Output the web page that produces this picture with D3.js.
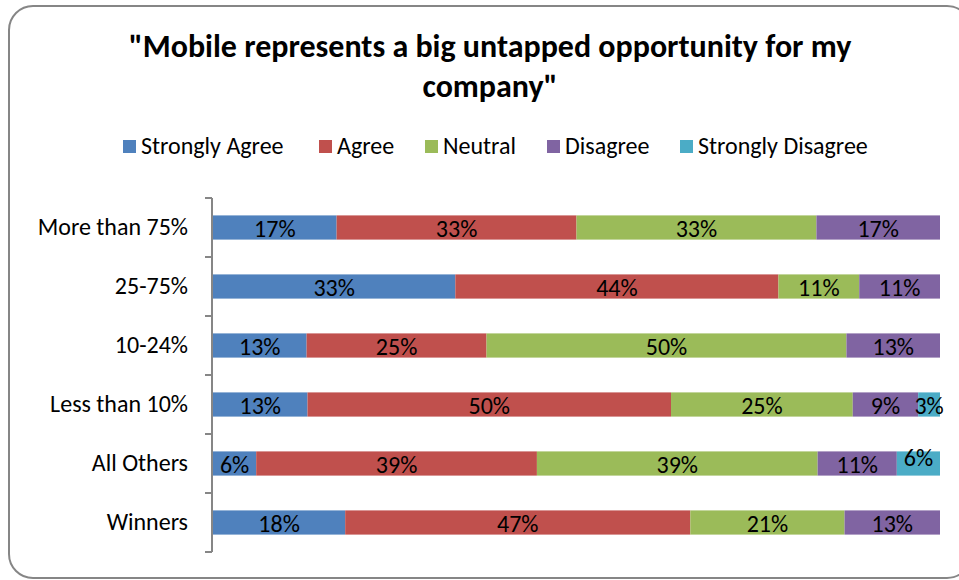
<!DOCTYPE html>
<html>
<head>
<meta charset="utf-8">
<script src="https://cdn.jsdelivr.net/npm/d3@7"></script>
<style>
  html, body { margin: 0; padding: 0; background: #fff; }
  svg { display: block; }
  text { font-family: Carlito, Calibri, Lato, sans-serif; fill: #000; }
</style>
</head>
<body>
<svg id="chart" width="959" height="580"></svg>
<script>
// Survey answer categories (rows, top to bottom)
const categories = ["More than 75%", "25-75%", "10-24%", "Less than 10%", "All Others", "Winners"];

// Answer series, in stacking order
const seriesNames = ["Strongly Agree", "Agree", "Neutral", "Disagree", "Strongly Disagree"];
const seriesColors = ["#4F81BD", "#C0504D", "#9BBB59", "#8064A2", "#4BACC6"];

// Percentage of respondents per row, one array per answer
const stronglyAgree    = [17, 33, 13, 13,  6, 18];
const agree            = [33, 44, 25, 50, 39, 47];
const neutral          = [33, 11, 50, 25, 39, 21];
const disagree         = [17, 11, 13,  9, 11, 13];
const stronglyDisagree = [ 0,  0,  0,  3,  6,  0];

const titleLines = ["\"Mobile represents a big untapped opportunity for my", "company\""];

const svg = d3.select("#chart");

// Rounded chart frame
svg.append("rect")
  .attr("x", 9).attr("y", 6)
  .attr("width", 962).attr("height", 572)
  .attr("rx", 24).attr("ry", 24)
  .attr("fill", "#fff")
  .attr("stroke", "#868686")
  .attr("stroke-width", 2);

// Title
const title = svg.append("text")
  .attr("text-anchor", "middle")
  .attr("font-weight", "bold")
  .attr("font-size", 32);
titleLines.forEach((t, i) => {
  title.append("tspan").attr("x", 490).attr("y", 57 + i * 40).text(t);
});

// Build the table for the stack
const table = categories.map((c, i) => ({
  category: c,
  "Strongly Agree": stronglyAgree[i],
  "Agree": agree[i],
  "Neutral": neutral[i],
  "Disagree": disagree[i],
  "Strongly Disagree": stronglyDisagree[i]
}));

const stack = d3.stack()
  .keys(seriesNames)
  .offset(d3.stackOffsetExpand);
const layers = stack(table);

const x = d3.scaleLinear().domain([0, 1]).range([213, 940]);
const y = d3.scaleBand()
  .domain(categories)
  .range([198, 552])
  .paddingInner(0.59)
  .paddingOuter(0.295);
const color = d3.scaleOrdinal().domain(seriesNames).range(seriesColors);

// Bars
const layerG = svg.append("g").selectAll("g")
  .data(layers)
  .join("g")
  .attr("fill", d => color(d.key));

layerG.selectAll("rect")
  .data(d => d.filter(s => s.data[d.key] > 0))
  .join("rect")
  .attr("x", d => x(d[0]))
  .attr("y", d => y(d.data.category))
  .attr("width", d => x(d[1]) - x(d[0]))
  .attr("height", y.bandwidth());

// Value labels, centred on each segment
const labelLift = { "All Others|Strongly Disagree": 7 };
layers.forEach(layer => {
  svg.append("g").selectAll("text")
    .data(layer.filter(s => s.data[layer.key] > 0))
    .join("text")
    .attr("text-anchor", "middle")
    .attr("font-size", 24)
    .attr("x", d => (x(d[0]) + x(d[1])) / 2)
    .attr("y", d => y(d.data.category) + y.bandwidth() / 2 + 9 - (labelLift[d.data.category + "|" + layer.key] || 0))
    .text(d => d.data[layer.key] + "%");
});

// Category axis
const yAxis = d3.axisLeft(y).tickSize(0).tickPadding(24);
const axisG = svg.append("g")
  .attr("transform", "translate(212,0)")
  .call(yAxis);
axisG.select(".domain").remove();
axisG.selectAll("text")
  .attr("font-size", 24)
  .attr("font-family", "Carlito, Calibri, Lato, sans-serif")
  .attr("fill", "#000")
  .attr("dy", "0.33em");

// Axis line and tick marks between categories
const tickYs = d3.range(categories.length + 1).map(i => y.range()[0] + i * y.step());
svg.append("line")
  .attr("x1", 212).attr("x2", 212)
  .attr("y1", tickYs[0]).attr("y2", tickYs[tickYs.length - 1])
  .attr("stroke", "#868686").attr("stroke-width", 2);
svg.append("g").selectAll("line")
  .data(tickYs)
  .join("line")
  .attr("x1", 205).attr("x2", 212)
  .attr("y1", d => d).attr("y2", d => d)
  .attr("stroke", "#868686").attr("stroke-width", 2);

// Legend
const legendX = [123, 319, 425, 547, 680];
const legend = svg.append("g").selectAll("g")
  .data(seriesNames)
  .join("g")
  .attr("transform", (d, i) => `translate(${legendX[i]},140)`);
legend.append("rect")
  .attr("width", 13).attr("height", 13)
  .attr("fill", d => color(d));
legend.append("text")
  .attr("x", 18).attr("y", 14)
  .attr("font-size", 24)
  .text(d => d);
</script>
</body>
</html>
